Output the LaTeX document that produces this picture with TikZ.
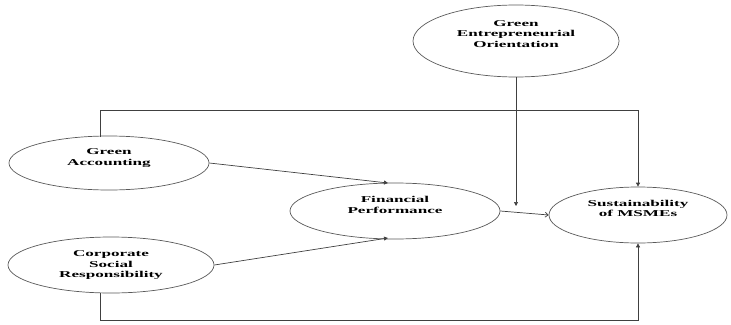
\documentclass[tikz,border=0pt]{standalone}
\usepackage{fontspec}
\setmainfont{Liberation Serif}
\newfontfamily\widefont[FakeStretch=1.9]{Liberation Serif}
\usetikzlibrary{shapes.geometric,arrows.meta}
\begin{document}
\begin{tikzpicture}[x=1pt,y=-1pt,
  var/.style={ellipse,draw=black!65,line width=0.7pt,inner sep=0pt,align=center,
    font=\widefont\fontsize{9}{10.5}\selectfont\bfseries},
  conn/.style={draw=black!75,line width=0.7pt},
  tip/.style={-{Triangle[length=4pt,width=4pt]}},
  opentip/.style={-{Straight Barb[length=3pt,width=5pt]}}]
\useasboundingbox (0,0) rectangle (731,324);
\node[var,minimum width=206pt,minimum height=72pt] (geo) at (516,41) {Green\\Entrepreneurial\\Orientation\\[4pt]};
\node[var,minimum width=200pt,minimum height=54pt] (ga) at (109,163) {Green\\Accounting\\[1pt]};
\node[var,minimum width=206pt,minimum height=56pt] (csr) at (111,265) {Corporate\\Social\\Responsibility};
\node[var,minimum width=210pt,minimum height=56pt] (fp) at (395,211) {Financial\\Performance\\[2pt]};
\node[var,minimum width=178pt,minimum height=56pt] (sus) at (638,215) {Sustainability\\of MSMEs\\[3pt]};
\coordinate (gatop) at (100,137);
\coordinate (csrbot) at (100,293);
\coordinate (mod) at (516,206);
\draw[conn,tip] (gatop) -- (100,110) -| (sus.north);
\draw[conn,tip] (csrbot) -- (100,320) -| (sus.south);
\draw[conn,tip] (geo.south) -- (mod);
\draw[conn,tip] (ga.east) -- (388,183);
\draw[conn,tip] (csr.east) -- (388,238);
\draw[conn,opentip] (fp.east) -- (sus.west);
\end{tikzpicture}
\end{document}
